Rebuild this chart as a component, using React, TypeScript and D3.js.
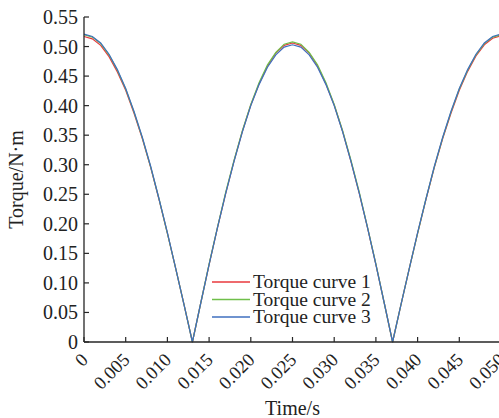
import React from "react";
import * as d3 from "d3";

const times = [0,0.001,0.002,0.003,0.004,0.005,0.006,0.007,0.008,0.009,0.010,0.011,0.012,0.013,0.014,0.015,0.016,0.017,0.018,0.019,0.020,0.021,0.022,0.023,0.024,0.025,0.026,0.027,0.028,0.029,0.030,0.031,0.032,0.033,0.034,0.035,0.036,0.037,0.038,0.039,0.040,0.041,0.042,0.043,0.044,0.045,0.046,0.047,0.048,0.049,0.050];

const curve1 = [0.517,0.513,0.502,0.483,0.457,0.426,0.387,0.344,0.295,0.241,0.184,0.124,0.063,0.000,0.066,0.131,0.193,0.252,0.307,0.357,0.401,0.437,0.467,0.489,0.502,0.506,0.502,0.489,0.467,0.437,0.401,0.357,0.306,0.252,0.193,0.131,0.066,0.000,0.063,0.124,0.184,0.241,0.295,0.344,0.387,0.426,0.458,0.484,0.503,0.514,0.518];
const curve2 = [0.520,0.516,0.505,0.486,0.460,0.428,0.389,0.345,0.296,0.242,0.184,0.124,0.063,0.000,0.066,0.132,0.194,0.254,0.308,0.358,0.402,0.439,0.469,0.490,0.504,0.508,0.504,0.490,0.469,0.439,0.402,0.358,0.308,0.254,0.194,0.132,0.066,0.000,0.063,0.124,0.184,0.242,0.296,0.345,0.389,0.428,0.460,0.486,0.505,0.516,0.520];
const curve3 = [0.521,0.517,0.506,0.487,0.461,0.429,0.390,0.346,0.297,0.242,0.185,0.124,0.063,0.000,0.066,0.131,0.193,0.252,0.306,0.356,0.400,0.436,0.465,0.486,0.499,0.503,0.499,0.486,0.465,0.436,0.400,0.356,0.306,0.252,0.193,0.131,0.066,0.000,0.063,0.124,0.185,0.242,0.297,0.346,0.390,0.429,0.461,0.487,0.506,0.517,0.521];

const seriesNames = ["Torque curve 1", "Torque curve 2", "Torque curve 3"];
const seriesColors = ["#e8383d", "#6fbf4a", "#3f6fbf"];
const yTicks = [0,0.05,0.10,0.15,0.20,0.25,0.30,0.35,0.40,0.45,0.50,0.55];
const yTickLabels = ["0","0.05","0.10","0.15","0.20","0.25","0.30","0.35","0.40","0.45","0.50","0.55"];
const xTicks = [0,0.005,0.010,0.015,0.020,0.025,0.030,0.035,0.040,0.045,0.050];
const xTickLabels = ["0","0.005","0.010","0.015","0.020","0.025","0.030","0.035","0.040","0.045","0.050"];

export default function App() {
  const W = 499, H = 418;
  const x = d3.scaleLinear().domain([0, 0.05]).range([84, 501]);
  const y = d3.scaleLinear().domain([0, 0.55]).range([342, 17]);
  const all = [curve1, curve2, curve3];
  const line = d3.line<number>().x((_, i) => x(times[i])).y((d) => y(d));
  const font = "'Liberation Serif', 'Times New Roman', serif";
  const axisColor = "#262626";
  const fs = 20;
  return (
    <svg width={W} height={H} style={{ position: "absolute", left: 0, top: 0, background: "#fff" }} fontFamily={font}>
      {all.map((s, k) => (
        <path key={k} d={line(s) || ""} fill="none" stroke={seriesColors[k]} strokeWidth={1.2} />
      ))}
      <line x1={84} x2={84} y1={y(0.55)} y2={y(0)} stroke={axisColor} strokeWidth={1.3} />
      <line x1={84} x2={W} y1={y(0)} y2={y(0)} stroke={axisColor} strokeWidth={1.3} />
      {yTicks.map((v, i) => (
        <g key={i}>
          <line x1={84} x2={89} y1={y(v)} y2={y(v)} stroke={axisColor} strokeWidth={1.2} />
          <text x={78} y={y(v)} dy="0.35em" textAnchor="end" fontSize={fs} fill="#222">{yTickLabels[i]}</text>
        </g>
      ))}
      {xTicks.map((v, i) => (
        <g key={i}>
          <line x1={x(v)} x2={x(v)} y1={y(0)} y2={y(0) - 5} stroke={axisColor} strokeWidth={1.2} />
          <text transform={`translate(${x(v) + 5},${y(0) + 19}) rotate(-45)`} textAnchor="end" fontSize={18.5} fill="#222">{xTickLabels[i]}</text>
        </g>
      ))}
      <text x={x(0.025)} y={415} textAnchor="middle" fontSize={fs} fill="#222">Time/s</text>
      <text transform={`translate(23,${(y(0) + y(0.55)) / 2}) rotate(-90)`} textAnchor="middle" fontSize={fs} fill="#222">Torque/N·m</text>
      {seriesNames.map((n, k) => (
        <g key={k}>
          <line x1={212} x2={250} y1={282 + k * 17.5} y2={282 + k * 17.5} stroke={seriesColors[k]} strokeWidth={1.3} />
          <text x={253} y={282 + k * 17.5} dy="0.33em" fontSize={19.5} fill="#222">{n}</text>
        </g>
      ))}
    </svg>
  );
}
